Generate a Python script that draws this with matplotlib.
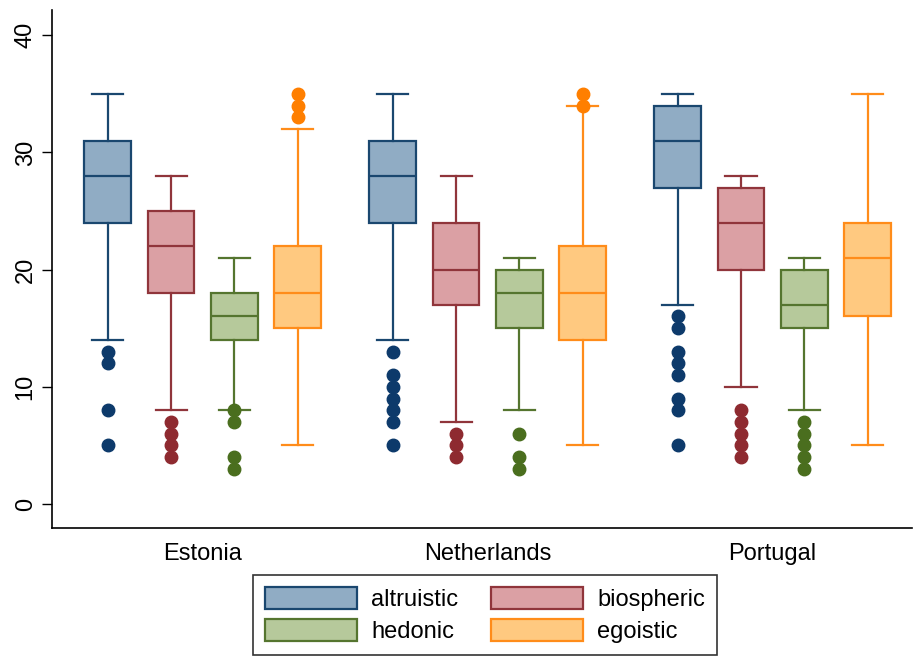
import matplotlib
matplotlib.use("Agg")
import matplotlib.pyplot as plt
from matplotlib.patches import Patch

plt.rcParams['font.family'] = ['Liberation Sans', 'DejaVu Sans']

countries = ['Estonia', 'Netherlands', 'Portugal']
series = ['altruistic', 'biospheric', 'hedonic', 'egoistic']

# (lower whisker, Q1, median, Q3, upper whisker) per country
altruistic_stats = [[14, 24, 28, 31, 35], [14, 24, 28, 31, 35], [17, 27, 31, 34, 35]]
biospheric_stats = [[8, 18, 22, 25, 28], [7, 17, 20, 24, 28], [10, 20, 24, 27, 28]]
hedonic_stats = [[8, 14, 16, 18, 21], [8, 15, 18, 20, 21], [8, 15, 17, 20, 21]]
egoistic_stats = [[5, 15, 18, 22, 32], [5, 14, 18, 22, 34], [5, 16, 21, 24, 35]]

altruistic_out = [[13, 12, 8, 5], [13, 11, 10, 9, 8, 7, 5], [16, 15, 13, 12, 11, 9, 8, 5]]
biospheric_out = [[7, 6, 5, 4], [6, 5, 4], [8, 7, 6, 5, 4]]
hedonic_out = [[8, 7, 4, 3], [6, 4, 3], [7, 6, 5, 4, 3]]
egoistic_out = [[35, 34, 33], [35, 34], []]

yticks = [0, 10, 20, 30, 40]

fills = ['#90acc4', '#dba0a4', '#b6c99b', '#ffc980']
edges = ['#1a476f', '#90353b', '#55752f', '#ff8c1a']
dots = ['#0d3a6b', '#8e2a30', '#4a6e1e', '#ff7f00']

all_stats = [altruistic_stats, biospheric_stats, hedonic_stats, egoistic_stats]
all_out = [altruistic_out, biospheric_out, hedonic_out, egoistic_out]

fig = plt.figure(figsize=(9.14, 6.57), dpi=100)
ax = fig.add_axes([52 / 914, 1 - 528 / 657, (912 - 52) / 914, (528 - 10) / 657])

group_step = 4.5
for v, (st, outs) in enumerate(zip(all_stats, all_out)):
    bxs = []
    pos = []
    for g in range(len(countries)):
        lo, q1, med, q3, hi = st[g]
        bxs.append(dict(whislo=lo, q1=q1, med=med, q3=q3, whishi=hi,
                        fliers=outs[g], label=''))
        pos.append(g * group_step + v)
    ax.bxp(bxs, positions=pos, widths=0.74, capwidths=0.49, patch_artist=True,
           showfliers=True, manage_ticks=False,
           boxprops=dict(facecolor=fills[v], edgecolor=edges[v], linewidth=1.6),
           medianprops=dict(color=edges[v], linewidth=1.6),
           whiskerprops=dict(color=edges[v], linewidth=1.6),
           capprops=dict(color=edges[v], linewidth=1.6),
           flierprops=dict(marker='o', markerfacecolor=dots[v],
                           markeredgecolor=dots[v], markersize=9))

ax.set_xlim(-0.88, 12.7)
ax.set_ylim(-2.05, 42.15)
ax.set_xticks([g * group_step + 1.5 for g in range(len(countries))])
ax.set_xticklabels(countries, fontsize=17)
ax.tick_params(axis='x', length=0, pad=11)
ax.set_yticks(yticks)
ax.set_yticklabels([str(t) for t in yticks], fontsize=17, rotation=90, va='center')
ax.tick_params(axis='y', length=7, width=1, pad=4)
for s in ['top', 'right']:
    ax.spines[s].set_visible(False)
for s in ['left', 'bottom']:
    ax.spines[s].set_linewidth(1.2)

handles = [Patch(facecolor=fills[i], edgecolor=edges[i], linewidth=1.6) for i in [0, 2, 1, 3]]
labels = [series[i] for i in [0, 2, 1, 3]]
leg = fig.legend(handles, labels, loc='center', bbox_to_anchor=(485 / 914, 1 - 615 / 657),
                 ncol=2, fontsize=17, frameon=True, fancybox=False, edgecolor='black',
                 handlelength=3.9, handleheight=1.05, handletextpad=0.6,
                 columnspacing=1.4, labelspacing=0.35, borderpad=0.5, borderaxespad=0)
leg.get_frame().set_linewidth(1.2)

fig.savefig('out.png', dpi=100)
